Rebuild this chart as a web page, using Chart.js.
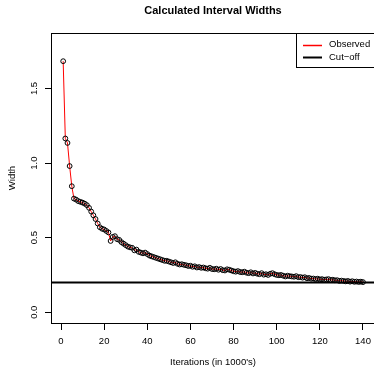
<!DOCTYPE html>
<html>
<head>
<meta charset="utf-8">
<script src="https://cdn.jsdelivr.net/npm/chart.js@4.4.0/dist/chart.umd.min.js"></script>
<style>
html, body { margin: 0; padding: 0; background: #fff; }
</style>
</head>
<body>
<canvas id="myChart" width="374" height="369"></canvas>
<script>
iterations = [
    1, 2, 3, 4, 5, 6, 7, 8, 9, 10, 11, 12, 13, 14, 15, 16, 17, 18, 19, 20,
    21, 22, 23, 24, 25, 26, 27, 28, 29, 30, 31, 32, 33, 34, 35, 36, 37, 38, 39, 40,
    41, 42, 43, 44, 45, 46, 47, 48, 49, 50, 51, 52, 53, 54, 55, 56, 57, 58, 59, 60,
    61, 62, 63, 64, 65, 66, 67, 68, 69, 70, 71, 72, 73, 74, 75, 76, 77, 78, 79, 80,
    81, 82, 83, 84, 85, 86, 87, 88, 89, 90, 91, 92, 93, 94, 95, 96, 97, 98, 99, 100,
    101, 102, 103, 104, 105, 106, 107, 108, 109, 110, 111, 112, 113, 114, 115, 116, 117, 118, 119, 120,
    121, 122, 123, 124, 125, 126, 127, 128, 129, 130, 131, 132, 133, 134, 135, 136, 137, 138, 139, 140,
]

widths = [
    1.683, 1.165, 1.135, 0.980, 0.845, 0.762, 0.755, 0.745, 0.740, 0.735,
    0.728, 0.718, 0.700, 0.675, 0.650, 0.625, 0.595, 0.570, 0.560, 0.555,
    0.545, 0.535, 0.478, 0.505, 0.510, 0.490, 0.485, 0.470, 0.460, 0.450,
    0.440, 0.435, 0.432, 0.415, 0.420, 0.405, 0.400, 0.395, 0.400, 0.390,
    0.380, 0.375, 0.370, 0.365, 0.360, 0.355, 0.350, 0.345, 0.345, 0.340,
    0.335, 0.330, 0.335, 0.325, 0.320, 0.322, 0.318, 0.315, 0.310, 0.312,
    0.305, 0.308, 0.300, 0.303, 0.298, 0.300, 0.295, 0.292, 0.298, 0.290,
    0.288, 0.292, 0.285, 0.290, 0.282, 0.280, 0.288, 0.285, 0.280, 0.275,
    0.272, 0.276, 0.270, 0.268, 0.272, 0.265, 0.262, 0.268, 0.260, 0.264,
    0.258, 0.255, 0.262, 0.252, 0.255, 0.250, 0.258, 0.262, 0.255, 0.250,
    0.248, 0.250, 0.245, 0.240, 0.245, 0.242, 0.240, 0.238, 0.242, 0.235,
    0.236, 0.232, 0.235, 0.228, 0.230, 0.225, 0.226, 0.222, 0.225, 0.220,
    0.222, 0.218, 0.220, 0.222, 0.216, 0.218, 0.214, 0.215, 0.210, 0.212,
    0.210, 0.207, 0.210, 0.205, 0.208, 0.204, 0.206, 0.203, 0.205, 0.202,
]

cutoff = 0.2

xTicks = [0, 20, 40, 60, 80, 100, 120, 140]
yTicks = [0.0, 0.5, 1.0, 1.5]
yTickLabels = ['0.0', '0.5', '1.0', '1.5']

legendLabels = ['Observed', 'Cut\u2212off']

var FONT = "'Liberation Sans', Arial, Helvetica, sans-serif";

// R-style decorations: box, rotated y labels, titles, legend
var rDecor = {
    id: 'rDecor',
    afterDraw: function (chart) {
        var ctx = chart.ctx;
        var area = chart.chartArea;
        var ys = chart.scales.y;
        var cx = (area.left + area.right + 1) / 2;
        ctx.save();
        ctx.strokeStyle = '#000';
        ctx.lineWidth = 1;
        ctx.strokeRect(area.left + 0.5, area.top + 0.5, area.right - area.left + 1, area.bottom - area.top);

        ctx.fillStyle = '#000';
        ctx.textAlign = 'center';
        ctx.textBaseline = 'middle';

        // main title
        ctx.font = 'bold 11px ' + FONT;
        ctx.fillText('Calculated Interval Widths', cx, 11);

        // x title
        ctx.font = '9.5px ' + FONT;
        ctx.fillText("Iterations (in 1000's)", cx, 362);

        // y tick labels, rotated
        yTicks.forEach(function (v, i) {
            ctx.save();
            ctx.translate(34, ys.getPixelForValue(v));
            ctx.rotate(-Math.PI / 2);
            ctx.fillText(yTickLabels[i], 0, 0);
            ctx.restore();
        });

        // y title
        ctx.save();
        ctx.translate(12, (area.top + area.bottom) / 2);
        ctx.rotate(-Math.PI / 2);
        ctx.fillText('Width', 0, 0);
        ctx.restore();

        // legend
        ctx.strokeRect(296.5, area.top + 0.5, 100, 34);
        var ds = chart.data.datasets;
        [ds[0], ds[1]].forEach(function (d, i) {
            var y = 44.5 + i * 12.5;
            ctx.strokeStyle = d.borderColor;
            ctx.lineWidth = d.legendWidth;
            ctx.beginPath();
            ctx.moveTo(303, Math.round(y) + 0.5);
            ctx.lineTo(322, Math.round(y) + 0.5);
            ctx.stroke();
            ctx.textAlign = 'left';
            ctx.fillText(d.label, 329, y);
        });
        ctx.restore();
    }
};

function renderChart() {
    var ctx = document.getElementById('myChart').getContext('2d');
    var points = iterations.map(function (x, i) { return { x: x, y: widths[i] }; });
    var myChart = new Chart(ctx, {
        type: 'line',
        data: {
            datasets: [{
                label: legendLabels[0],
                data: points,
                borderColor: '#ff0000',
                borderWidth: 1,
                legendWidth: 1.5,
                tension: 0,
                pointRadius: 2.4,
                pointBorderWidth: 1,
                pointBorderColor: '#000',
                pointBackgroundColor: 'rgba(0,0,0,0)',
                order: 1
            }, {
                label: legendLabels[1],
                data: [{ x: -10, y: cutoff }, { x: 160, y: cutoff }],
                borderColor: '#000',
                borderWidth: 2,
                legendWidth: 2,
                pointRadius: 0,
                order: 0
            }]
        },
        options: {
            responsive: false,
            animation: false,
            devicePixelRatio: 1,
            layout: { autoPadding: false, padding: { top: 33, left: 0, right: 0, bottom: 0 } },
            plugins: {
                legend: { display: false },
                title: { display: false },
                tooltip: { enabled: false }
            },
            scales: {
                x: {
                    type: 'linear',
                    min: -4.64,
                    max: 145.1,
                    afterBuildTicks: function (s) { s.ticks = xTicks.map(function (v) { return { value: v }; }); },
                    afterFit: function (s) { s.height = 46; s.paddingLeft = 0; s.paddingRight = 0; },
                    border: { display: false },
                    grid: { drawOnChartArea: false, drawTicks: true, tickLength: 7, color: '#000', tickColor: '#000' },
                    ticks: { color: '#000', font: { family: FONT, size: 9.5 }, padding: 6, maxRotation: 0, autoSkip: false }
                },
                y: {
                    type: 'linear',
                    min: -0.072,
                    max: 1.872,
                    afterBuildTicks: function (s) { s.ticks = yTicks.map(function (v) { return { value: v }; }); },
                    afterFit: function (s) { s.width = 51; s.paddingTop = 0; s.paddingBottom = 0; },
                    border: { display: false },
                    grid: { drawOnChartArea: false, drawTicks: true, tickLength: 6, color: '#000', tickColor: '#000' },
                    ticks: { display: false }
                }
            }
        },
        plugins: [rDecor]
    });
}

renderChart();
</script>
</body>
</html>
